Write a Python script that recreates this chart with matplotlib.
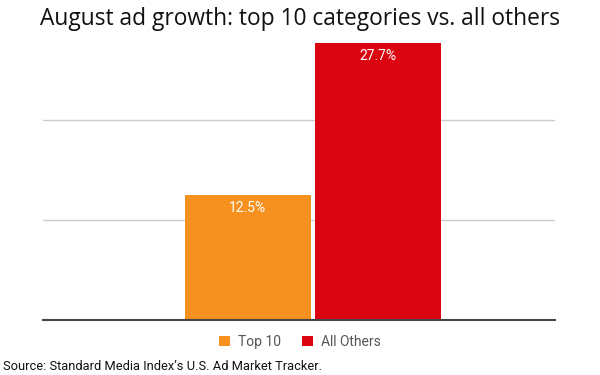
import matplotlib.pyplot as plt

series = ["Top 10", "All Others"]
values = [12.5, 27.7]
colors = ["#F6901E", "#DA0511"]
yticks = [0, 10, 20]

fig = plt.figure(figsize=(6, 3.75), dpi=100)
ax = fig.add_axes([43/600, 55/375, 512/600, 285/375])

xs = [-0.405, 0.623]
bars = ax.bar(xs, values, width=1.0, color=colors, label=series, zorder=3)
for b, v in zip(bars, values):
    ax.text(b.get_x() + b.get_width()/2, v - 1.25, f"{v}%", ha="center", va="center",
            color="white", fontsize=10, family="Roboto", zorder=4)

ax.set_xlim(-2.03, 2.03)
ax.set_ylim(0, 28.5)
ax.set_yticks(yticks)
ax.yaxis.grid(True, color="#cccccc", linewidth=1, zorder=0)
ax.tick_params(left=False, bottom=False, labelleft=False, labelbottom=False)
for s in ["top", "right", "left"]:
    ax.spines[s].set_visible(False)
ax.spines["bottom"].set_color("#444444")
ax.spines["bottom"].set_linewidth(1.5)
ax.spines["bottom"].set_zorder(5)

fig.text(0.5, 1 - 19/375, "August ad growth: top 10 categories vs. all others", ha="center", va="center",
         fontsize=16.4, family="Open Sans", color="#111111")

leg = fig.legend(handles=bars, labels=series, loc="center", bbox_to_anchor=(0.5, (375-342)/375),
                 ncol=2, frameon=False, prop={"family": "Roboto", "size": 10}, handlelength=0.8,
                 handleheight=0.8, handletextpad=0.6, columnspacing=1.5)
for t in leg.get_texts():
    t.set_color("#555555")

fig.text(3/600, (375-366)/375, "Source: Standard Media Index\u2019s U.S. Ad Market Tracker.", ha="left", va="center",
         fontsize=9.25, family="Roboto", color="#111111")

fig.savefig("out.png", dpi=100)
